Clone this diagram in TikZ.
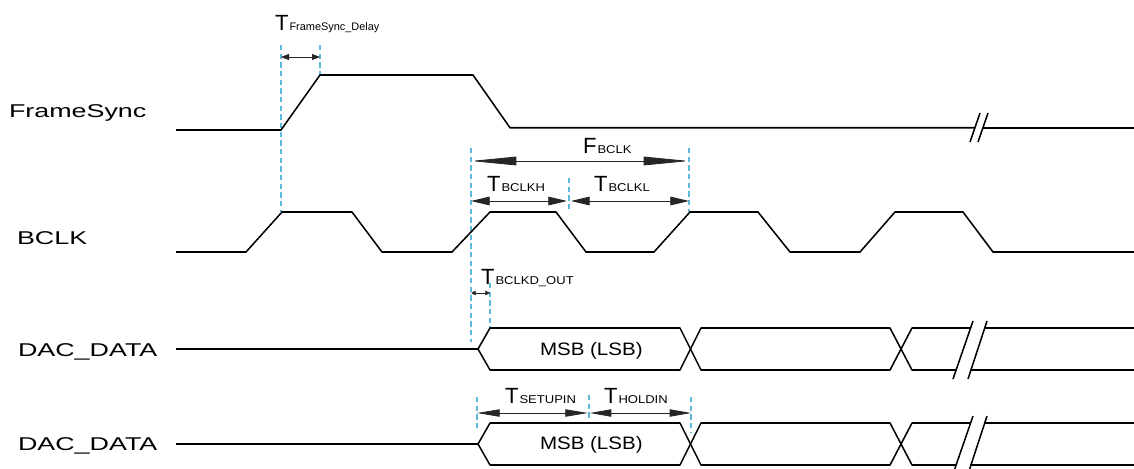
\documentclass[tikz,border=0pt]{standalone}
\usepackage{fontspec}
\setmainfont{Liberation Sans}
\usepackage{graphicx}
\usetikzlibrary{arrows.meta}
\definecolor{guidecol}{RGB}{95,185,222}
\newcommand{\sigfont}[1]{\scalebox{1.45}[1]{\fontsize{13.9}{14}\selectfont #1}}
\newcommand{\msbfont}[1]{\scalebox{1.14}[1]{\fontsize{13.5}{14}\selectfont #1}}
\newcommand{\tname}[2]{{\fontsize{16.5}{17}\selectfont #1}\kern0.8pt\scalebox{1.15}[1]{\fontsize{8.5}{9}\selectfont #2}}
\newcommand{\tnamesm}[2]{{\fontsize{16.5}{17}\selectfont #1}\kern0.8pt\scalebox{1.0}[1]{\fontsize{8.2}{9}\selectfont #2}}
\begin{document}
\begin{tikzpicture}[x=0.75pt,y=-0.75pt,
  sig/.style={line width=1.15pt,line join=round},
  brk/.style={line width=1.15pt},
  guide/.style={draw=guidecol,line width=0.9pt,dash pattern=on 4pt off 2.5pt},
  dim/.style={line width=0.6pt,draw=black!85},
  lbl/.style={anchor=base west,inner sep=0pt,outer sep=0pt},
]
\useasboundingbox (0,0) rectangle (1134,468);

% signal names
\node[lbl] (lfs) at (9,117) {\sigfont{FrameSync}};
\node[lbl] (lbclk) at (17,244) {\sigfont{BCLK}};
\node[lbl] (ldac1) at (18,356) {\sigfont{DAC\_DATA}};
\node[lbl] (ldac2) at (18,450) {\sigfont{DAC\_DATA}};

% guide lines
\coordinate (g1t) at (281,45);  \coordinate (g1b) at (281,212);
\coordinate (g2t) at (320,45);  \coordinate (g2b) at (320,75);
\coordinate (g3t) at (471,148); \coordinate (g3b) at (471,342);
\coordinate (g4t) at (490,283); \coordinate (g4b) at (490,328);
\coordinate (g5t) at (569,178); \coordinate (g5b) at (569,210);
\coordinate (g6t) at (689,148); \coordinate (g6b) at (689,212);
\coordinate (g7t) at (477,397); \coordinate (g7b) at (477,430);
\coordinate (g8t) at (589,395); \coordinate (g8b) at (589,420);
\coordinate (g9t) at (691,397); \coordinate (g9b) at (691,432);
\foreach \g in {1,...,9} {\draw[guide] (g\g t) -- (g\g b);}

% FrameSync
\draw[sig] (176,130) -- (281,130) -- (320,75) -- (473,75) -- (510,127.75) -- (975,127.75);
\draw[sig] (983,127.75) -- (1134,127.75);
\draw[brk] (970,142) -- (980,113);
\draw[brk] (978,142) -- (988,113);

% BCLK
\draw[sig] (176,252) -- (246,252) -- (282,212) -- (352,212) -- (382,252) -- (452,252)
  -- (490,212) -- (556,212) -- (586,252) -- (654,252) -- (690,212) -- (758,212)
  -- (790,252) -- (860,252) -- (895,212) -- (963,212) -- (993,252) -- (1134,252);

% DAC_DATA buses
\foreach \d in {0,95} {
  \draw[sig] (176,349+\d) -- (478,349+\d) -- (490,328+\d) -- (680,328+\d) -- (701,370+\d)
    -- (890,370+\d) -- (912,328+\d) -- (970.6,328+\d);
  \draw[sig] (478,349+\d) -- (490,370+\d) -- (680,370+\d) -- (701,328+\d)
    -- (890,328+\d) -- (912,370+\d) -- (956,370+\d);
  \draw[sig] (984.6,327.75+\d) -- (1134,327.75+\d);
  \draw[sig] (971,369.75+\d) -- (1134,369.75+\d);
  \draw[brk] (953,379+\d) -- (973,321+\d);
  \draw[brk] (968,379+\d) -- (987,321+\d);
}
\node[lbl] (msb1) at (540,355) {\msbfont{MSB (LSB)}};
\node[lbl] (msb2) at (540,449) {\msbfont{MSB (LSB)}};

% dimension arrows
\coordinate (a1l) at (281,57);  \coordinate (a1r) at (320,57);
\draw[dim,{Triangle[length=6pt,width=4.5pt]}-{Triangle[length=6pt,width=4.5pt]}] (a1l) -- (a1r);
\coordinate (a2l) at (471,161); \coordinate (a2r) at (689,161);
\draw[dim,{Triangle[length=34pt,width=6.5pt]}-{Triangle[length=34pt,width=6.5pt]}] (a2l) -- (a2r);
\coordinate (a3l) at (471,201); \coordinate (a3r) at (567,201);
\draw[dim,{Triangle[length=14pt,width=6.5pt]}-{Triangle[length=14pt,width=6.5pt]}] (a3l) -- (a3r);
\coordinate (a4l) at (571,201); \coordinate (a4r) at (689,201);
\draw[dim,{Triangle[length=14pt,width=6.5pt]}-{Triangle[length=14pt,width=6.5pt]}] (a4l) -- (a4r);
\coordinate (a5l) at (471,293); \coordinate (a5r) at (490,293);
\draw[dim,{Triangle[length=3.5pt,width=3.5pt]}-{Triangle[length=3.5pt,width=3.5pt]}] (a5l) -- (a5r);
\coordinate (a6l) at (477,413); \coordinate (a6r) at (588,413);
\draw[dim,{Triangle[length=17pt,width=5.5pt]}-{Triangle[length=17pt,width=5.5pt]}] (a6l) -- (a6r);
\coordinate (a7l) at (590,413); \coordinate (a7r) at (691,413);
\draw[dim,{Triangle[length=16pt,width=5.5pt]}-{Triangle[length=16pt,width=5.5pt]}] (a7l) -- (a7r);

% timing labels
\node[lbl] (tfs) at (275,30) {\tnamesm{T}{FrameSync\_Delay}};
\node[lbl] (fb) at (583,153) {\tname{F}{BCLK}};
\node[lbl] (tbh) at (487,191) {\tname{T}{BCLKH}};
\node[lbl] (tbl) at (594,191) {\tname{T}{BCLKL}};
\node[lbl] (tbd) at (481,284) {\tname{T}{BCLKD\_OUT}};
\node[lbl] (tsu) at (505,403) {\tname{T}{SETUPIN}};
\node[lbl] (tho) at (604,403) {\tname{T}{HOLDIN}};
\end{tikzpicture}
\end{document}
